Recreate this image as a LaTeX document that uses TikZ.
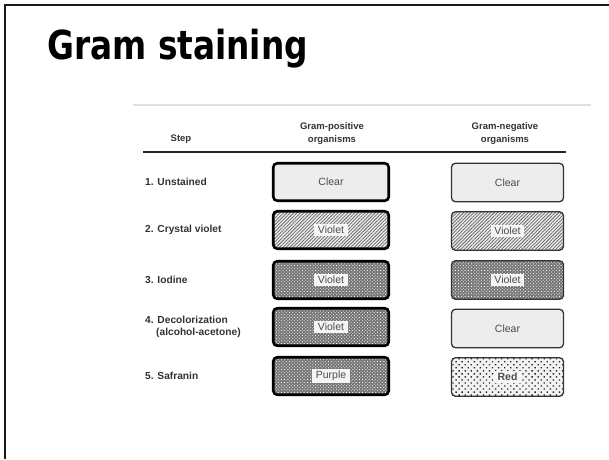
\documentclass[tikz,border=0pt]{standalone}
\usepackage{fontspec}
\setmainfont{Liberation Sans}
\newfontfamily\titlefont{DejaVu Sans}
\usetikzlibrary{patterns.meta}
\tikzset{
  frameline/.style={line width=2pt, black!90},
  posbox/.style={draw=black, line width=2.6pt, rounded corners=4pt, minimum width=115.5pt, minimum height=37.5pt, inner sep=0pt},
  negbox/.style={draw=black!80, line width=1.3pt, rounded corners=4pt, minimum width=112pt, minimum height=38.5pt, inner sep=0pt},
  clearfill/.style={fill=black!7},
  hatchfill/.style={preaction={fill=black!8}, pattern={Lines[angle=45,distance=2.4pt,line width=0.75pt]}, pattern color=black!60},
  checkfill/.style={preaction={fill=black!55}, pattern={Dots[angle=45,distance=2.3pt,radius=0.62pt]}, pattern color=white},
  dotfill/.style={preaction={fill=black!5}, pattern={Dots[angle=45,distance=4.3pt,radius=0.95pt]}, pattern color=black!85},
  tag/.style={fill=black!4, inner xsep=3.5pt, inner ysep=2pt, text=black!70, font=\fontsize{10.5}{12}\selectfont},
  plaintag/.style={inner sep=0pt, text=black!70, font=\fontsize{10.5}{12}\selectfont},
  steplabel/.style={anchor=west, inner sep=0pt, text=black!80, align=left, font=\fontsize{10.2}{12}\selectfont\bfseries},
  headlabel/.style={inner sep=0pt, text=black!80, align=center, font=\fontsize{9.5}{13}\selectfont\bfseries},
}
\begin{document}
\begin{tikzpicture}[x=1pt,y=-1pt]
\useasboundingbox (0,0) rectangle (609,459);
\fill[white] (0,0) rectangle (609,459);
% frame
\draw[frameline] (5,459) -- (5,5) -- (609,5);
% title
\node[anchor=base west, inner sep=0pt] (title) at (47,59.3)
  {\scalebox{0.82}[1]{\fontsize{40}{44}\selectfont\titlefont\bfseries Gram staining}};
% rules
\draw[black!12, line width=1.5pt] (133,105) -- (591,105);
\draw[black!85, line width=1.7pt] (143,152) -- (566,152);
% headers
\node[headlabel] (hstep) at (181,139) {Step};
\node[headlabel] (hpos) at (332,133.5) {Gram-positive\\organisms};
\node[headlabel] (hneg) at (505,133.5) {Gram-negative\\organisms};
% step labels
\node[steplabel] (s1) at (145,182) {1. Unstained};
\node[steplabel] (s2) at (145,230) {2. Crystal violet};
\node[steplabel] (s3) at (145,280) {3. Iodine};
\node[steplabel] (s4) at (145,327) {4. Decolorization\\\hspace{11pt}(alcohol-acetone)};
\node[steplabel] (s5) at (145,376) {5. Safranin};
% gram-positive column
\node[posbox, clearfill] (p1) at (331,182) {};
\node[plaintag] (p1t) at (p1) {Clear};
\node[posbox, hatchfill] (p2) at (331,230) {};
\node[tag] (p2t) at (p2) {Violet};
\node[posbox, checkfill] (p3) at (331,280) {};
\node[tag] (p3t) at (p3) {Violet};
\node[posbox, checkfill] (p4) at (331,327) {};
\node[tag] (p4t) at (p4) {Violet};
\node[posbox, checkfill] (p5) at (331,376) {};
\node[tag] (p5t) at (p5) {Purple};
% gram-negative column
\node[negbox, clearfill] (n1) at (507.5,182.5) {};
\node[plaintag] (n1t) at (n1) {Clear};
\node[negbox, hatchfill] (n2) at (507.5,231) {};
\node[tag] (n2t) at (n2) {Violet};
\node[negbox, checkfill] (n3) at (507.5,280) {};
\node[tag] (n3t) at (n3) {Violet};
\node[negbox, clearfill] (n4) at (507.5,328.5) {};
\node[plaintag] (n4t) at (n4) {Clear};
\node[negbox, dotfill] (n5) at (507.5,377) {};
\node[tag, fill=black!3, font=\fontsize{10.5}{12}\selectfont\bfseries] (n5t) at (n5) {Red};
\end{tikzpicture}
\end{document}
